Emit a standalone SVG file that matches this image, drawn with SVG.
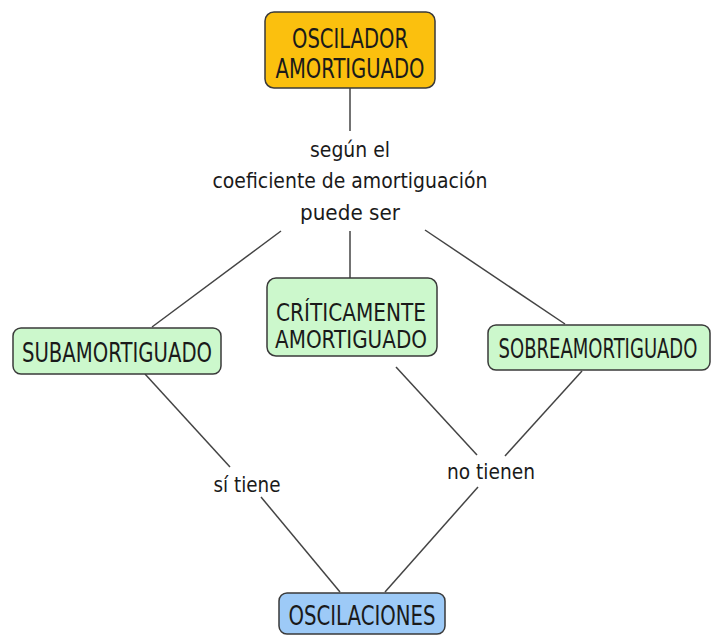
<svg xmlns="http://www.w3.org/2000/svg" width="716" height="635" viewBox="0 0 716 635">
<style>
.box{stroke:#3a3a3a;stroke-width:1.5}
.y{fill:#FBC00E}
.g{fill:#CCF8CC}
.b{fill:#9DCAF7}
.nt{font-family:"DejaVu Sans",sans-serif;font-size:27px;fill:#1a1a1a;text-anchor:middle}
.ct{font-size:25px}
.lt{font-family:"DejaVu Sans",sans-serif;font-size:22px;fill:#1a1a1a;text-anchor:middle}
.c line{stroke:#444;stroke-width:1.5}
</style>
<rect width="716" height="635" fill="#ffffff"/>
<g class="c" id="connectors">
<line x1="350" y1="88" x2="350" y2="131"/>
<line x1="281" y1="231" x2="152" y2="327"/>
<line x1="350" y1="231" x2="350" y2="278"/>
<line x1="425" y1="230" x2="565" y2="324"/>
<line x1="145" y1="374" x2="230" y2="467"/>
<line x1="261" y1="497" x2="340" y2="592"/>
<line x1="396" y1="367" x2="477" y2="455"/>
<line x1="582" y1="371" x2="505" y2="456"/>
<line x1="478" y1="487" x2="385" y2="592"/>
</g>
<g id="label-segun">
<text class="lt" x="350" y="157" textLength="80" lengthAdjust="spacingAndGlyphs">según el</text>
<text class="lt" x="350" y="188" textLength="275" lengthAdjust="spacingAndGlyphs">coeficiente de amortiguación</text>
<text class="lt" x="350" y="220" textLength="100" lengthAdjust="spacingAndGlyphs">puede ser</text>
</g>
<g id="label-si">
<text class="lt" x="247" y="492" textLength="67" lengthAdjust="spacingAndGlyphs">sí tiene</text>
</g>
<g id="label-no">
<text class="lt" x="491" y="479" textLength="88" lengthAdjust="spacingAndGlyphs">no tienen</text>
</g>
<g id="n-oscilador">
<rect class="box y" x="265" y="12" width="170" height="76" rx="9"/>
<text class="nt" x="350" y="48" textLength="116" lengthAdjust="spacingAndGlyphs">OSCILADOR</text>
<text class="nt" x="350" y="78" textLength="149" lengthAdjust="spacingAndGlyphs">AMORTIGUADO</text>
</g>
<g id="n-sub">
<rect class="box g" x="13" y="328" width="208" height="46" rx="8"/>
<text class="nt" x="117" y="362" textLength="190" lengthAdjust="spacingAndGlyphs">SUBAMORTIGUADO</text>
</g>
<g id="n-crit">
<rect class="box g" x="267" y="278" width="170" height="78" rx="9"/>
<text class="nt ct" x="351" y="321" textLength="150" lengthAdjust="spacingAndGlyphs">CRÍTICAMENTE</text>
<text class="nt ct" x="351" y="348" textLength="152" lengthAdjust="spacingAndGlyphs">AMORTIGUADO</text>
</g>
<g id="n-sobre">
<rect class="box g" x="488" y="325" width="222" height="45" rx="8"/>
<text class="nt" transform="translate(598,358) scale(0.667,1)" x="0" y="0">SOBREAMORTIGUADO</text>
</g>
<g id="n-osc">
<rect class="box b" x="279" y="593" width="166" height="41" rx="8"/>
<text class="nt" x="362" y="625" textLength="147" lengthAdjust="spacingAndGlyphs">OSCILACIONES</text>
</g>
</svg>
